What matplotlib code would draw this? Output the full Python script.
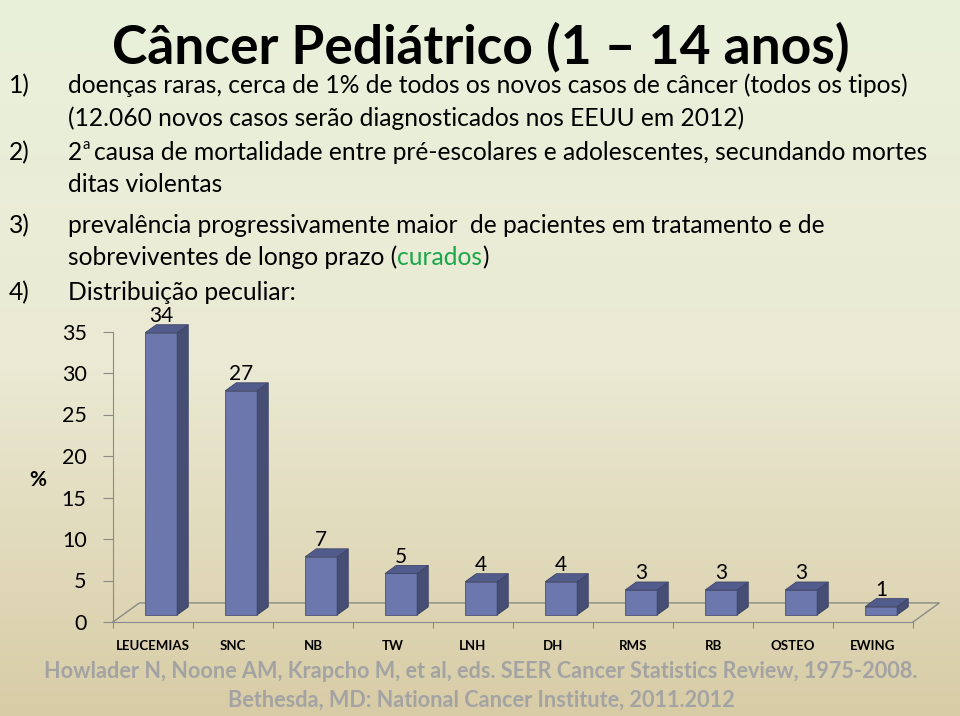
import numpy as np
import matplotlib.pyplot as plt
from matplotlib.patches import Polygon

# --- Dados do gráfico ---
categorias = ['LEUCEMIAS', 'SNC', 'NB', 'TW', 'LNH', 'DH', 'RMS', 'RB', 'OSTEO', 'EWING']
percentuais = [34, 27, 7, 5, 4, 4, 3, 3, 3, 1]
y_ticks = [0, 5, 10, 15, 20, 25, 30, 35]

titulo = 'Câncer Pediátrico (1 – 14 anos)'
linhas = [
    ('1)', 'doenças raras, cerca de 1% de todos os novos casos de câncer (todos os tipos)', 93),
    (None, '(12.060 novos casos serão diagnosticados nos EEUU em 2012)', 126),
    (None, 'ditas violentas', 192),
    ('3)', 'prevalência progressivamente maior  de pacientes em tratamento e de', 233),
    ('4)', 'Distribuição peculiar:', 300),
]
referencia = ['Howlader N, Noone AM, Krapcho M, et al, eds. SEER Cancer Statistics Review, 1975-2008.',
              'Bethesda, MD: National Cancer Institute, 2011.2012']

W, H = 960, 716
FONT = 'Lato'
fig = plt.figure(figsize=(W / 100, H / 100), dpi=100)
renderer = fig.canvas.get_renderer()


def fx(px):
    return px / W


def fy(py):
    return 1 - py / H


def fit(t, target):
    # ajusta o tamanho da fonte para a largura desejada (pixels)
    w = t.get_window_extent(renderer).width
    t.set_fontsize(t.get_fontsize() * target / w)
    return t.get_fontsize()


# --- Fundo em degradê ---
bg = fig.add_axes([0, 0, 1, 1], zorder=-10)
stops = np.array([[0xe9, 0xf1, 0xdb], [0xeb, 0xea, 0xd4], [0xd8, 0xcc, 0xa6]]) / 255
pos = np.linspace(0, 1, H)
grad = np.stack([np.interp(pos, [0, 0.5, 1], stops[:, c]) for c in range(3)], axis=1)
bg.imshow(grad[:, None, :], aspect='auto', extent=[0, 1, 0, 1])
bg.axis('off')

# --- Textos ---
t = fig.text(fx(481), fy(63), titulo, ha='center', va='baseline', fontsize=40,
             fontweight='bold', family=FONT)
fit(t, 738)

t1 = fig.text(fx(68), fy(93), linhas[0][1], ha='left', va='baseline', fontsize=18, family=FONT)
fs = fit(t1, 839)

for num, txt, y in linhas:
    if num:
        fig.text(fx(9), fy(y), num, ha='left', va='baseline', fontsize=fs, family=FONT)
    if txt != linhas[0][1]:
        fig.text(fx(68), fy(y), txt, ha='left', va='baseline', fontsize=fs, family=FONT)

# item 2 com o "a" sobrescrito
fig.text(fx(9), fy(160), '2)', ha='left', va='baseline', fontsize=fs, family=FONT)
dois = fig.text(fx(68), fy(160), '2', ha='left', va='baseline', fontsize=fs, family=FONT)
plt.annotate('a', xy=(1, 1), xycoords=dois, xytext=(0.5, 2.5), textcoords='offset points',
             ha='left', va='top', fontsize=fs * 0.6, family=FONT, annotation_clip=False)
fig.text(fx(94), fy(160), 'causa de mortalidade entre pré-escolares e adolescentes, secundando mortes',
         ha='left', va='baseline', fontsize=fs, family=FONT)

# linha com "curados" em verde
s1 = fig.text(fx(68), fy(265), 'sobreviventes de longo prazo (', ha='left', va='baseline',
              fontsize=fs, family=FONT)
s2 = plt.annotate('curados', xy=(1, 0), xycoords=s1, ha='left', va='bottom',
                  fontsize=fs, family=FONT, color='#1aa64b', annotation_clip=False)
plt.annotate(')', xy=(1, 0), xycoords=s2, ha='left', va='bottom',
             fontsize=fs, family=FONT, annotation_clip=False)

r1 = fig.text(fx(481), fy(678), referencia[0], ha='center', va='baseline', fontsize=16,
              fontweight='bold', family=FONT, color='#a3a3a3')
fr = fit(r1, 873)
fig.text(fx(481), fy(707), referencia[1], ha='center', va='baseline', fontsize=fr,
         fontweight='bold', family=FONT, color='#a3a3a3')

fig.text(fx(38), fy(480), '%', ha='center', va='center', fontsize=15,
         fontweight='bold', family=FONT)

# --- Gráfico de barras "3D" ---
# escala: x = 153 + 80*i px ; y = 622 - 8.3*v px
X0, XS, Y0, YS = 153, 80, 622, 8.3
L, R, T, B = 95, 950, 290, 632
ax = fig.add_axes([fx(L), fy(B), (R - L) / W, (B - T) / H])
ax.set_xlim((L - X0) / XS, (R - X0) / XS)
ax.set_ylim((Y0 - B) / YS, (Y0 - T) / YS)
ax.patch.set_alpha(0)

DX, DY = 0.33, 2.3          # profundidade do piso
F0, F1 = 0.37, 0.79         # plano frontal / traseiro das barras
HW = 0.2
n = len(categorias)
cor_linha = '#8a8a8a'

# piso
ax.plot([-0.5, -0.5 + DX, n - 0.5 + DX, n - 0.5], [0, DY, DY, 0],
        color=cor_linha, lw=1, zorder=1)

for i, v in enumerate(percentuais):
    xl, xr = i - 0.02 - HW + F0 * DX, i - 0.02 + HW + F0 * DX
    yb, yt = F0 * DY, v + F0 * DY
    ddx, ddy = (F1 - F0) * DX, (F1 - F0) * DY
    front = Polygon([(xl, yb), (xr, yb), (xr, yt), (xl, yt)], closed=True,
                    fc='#6c78ad', ec='#4a5278', lw=0.6, zorder=3)
    side = Polygon([(xr, yb), (xr + ddx, yb + ddy), (xr + ddx, yt + ddy), (xr, yt)], closed=True,
                   fc='#474e74', ec='#3d4466', lw=0.6, zorder=3)
    top = Polygon([(xl, yt), (xr, yt), (xr + ddx, yt + ddy), (xl + ddx, yt + ddy)], closed=True,
                  fc='#525c8c', ec='#3d4466', lw=0.6, zorder=3)
    for p in (front, side, top):
        ax.add_patch(p)
    ax.text((xl + xr) / 2, yt + ddy + 0.35, str(v), ha='center', va='baseline',
            fontsize=15, family=FONT)
    ax.text(i, -3.4, categorias[i], ha='center', va='baseline', fontsize=9.5,
            fontweight='bold', family=FONT)

for side_ in ('top', 'right'):
    ax.spines[side_].set_visible(False)
ax.spines['left'].set_position(('data', -0.5))
ax.spines['left'].set_bounds(0, 35)
ax.spines['bottom'].set_position(('data', 0))
ax.spines['bottom'].set_bounds(-0.5, n - 0.5)
for s in ('left', 'bottom'):
    ax.spines[s].set_color(cor_linha)
ax.set_yticks(y_ticks)
ax.set_yticklabels([str(v) for v in y_ticks], family=FONT, fontsize=15.5)
ax.set_xticks(np.arange(n + 1) - 0.5)
ax.set_xticklabels([])
ax.tick_params(axis='y', direction='out', length=7, color=cor_linha, pad=12)
ax.tick_params(axis='x', direction='out', length=4, color=cor_linha)

fig.savefig('out.png', dpi=100)
